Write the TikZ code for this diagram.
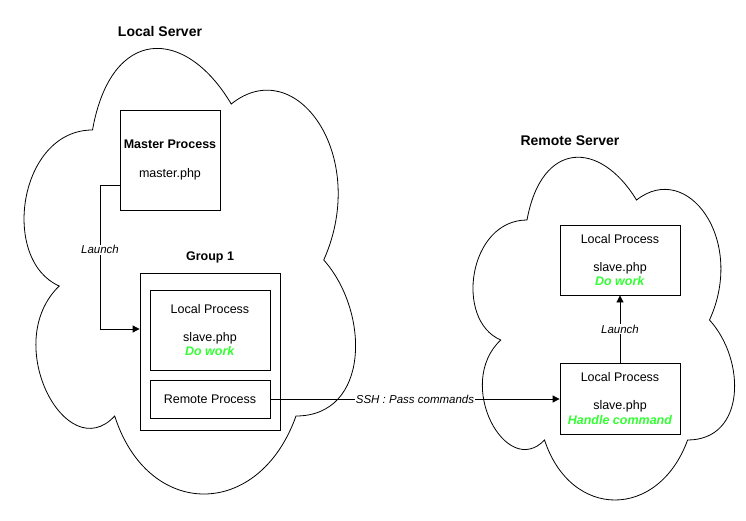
\documentclass[tikz,border=0pt]{standalone}
\usepackage{fontspec}
\setmainfont{Liberation Sans}
\usetikzlibrary{arrows.meta}
\definecolor{workgreen}{HTML}{33FF33}
\newcommand{\cloudpath}[4]{%
  \begin{scope}[shift={(#1,#2)}, xscale=#3, yscale=#4]
    \draw[cloudline] (0.25,0.25) .. controls (0.05,0.25) and (0,0.5) .. (0.16,0.55)
      .. controls (0,0.66) and (0.18,0.9) .. (0.31,0.8)
      .. controls (0.4,1) and (0.7,1) .. (0.8,0.8)
      .. controls (1,0.8) and (1,0.6) .. (0.875,0.5)
      .. controls (1,0.3) and (0.8,0.1) .. (0.625,0.2)
      .. controls (0.5,0.05) and (0.3,0.05) .. (0.25,0.25) -- cycle;
  \end{scope}}
\begin{document}
\begin{tikzpicture}[x=1pt, y=-1pt,
  cloudline/.style={draw=black, line width=0.8pt, fill=white},
  procbox/.style={draw=black, line width=0.8pt, fill=white, rectangle, inner sep=0pt, align=center,
    font=\fontsize{12.5}{14.4}\selectfont},
  titletext/.style={font=\fontsize{14}{16}\selectfont\bfseries, inner sep=1pt},
  grouptext/.style={font=\fontsize{12.5}{14.4}\selectfont\bfseries, inner sep=1pt},
  edgelabel/.style={font=\fontsize{11.5}{13}\selectfont\itshape, fill=white, inner sep=1pt},
  conn/.style={draw=black, line width=0.8pt},
  arr/.style={conn, -{Triangle[length=7pt, width=7pt]}}
]
\useasboundingbox (0,0) rectangle (746,521);
\fill[white] (0,0) rectangle (746,521);

% clouds
\cloudpath{0}{0}{370}{520}
\cloudpath{454}{120}{292}{400}

% titles
\node[titletext] (tlocal) at (160,31) {Local Server};
\node[titletext] (tremote) at (570,141) {Remote Server};
\node[grouptext] (tgroup) at (210,257) {Group 1};

% left side
\node[procbox, minimum width=100pt, minimum height=100pt] (master) at (170,160)
  {\textbf{Master Process}\\[14pt]master.php};
\node[procbox, minimum width=140pt, minimum height=157pt] (group) at (210,351.5) {};
\node[procbox, minimum width=120pt, minimum height=80pt] (lp1) at (210,330)
  {Local Process\\[14pt]slave.php\\\textcolor{workgreen}{\textbf{\textit{Do work}}}};
\node[procbox, minimum width=120pt, minimum height=38pt] (rp) at (210,399) {Remote Process};

% right side
\node[procbox, minimum width=120pt, minimum height=70pt] (lp2) at (620,260)
  {Local Process\\[14pt]slave.php\\\textcolor{workgreen}{\textbf{\textit{Do work}}}};
\node[procbox, minimum width=120pt, minimum height=71pt] (lp3) at (620,398.5)
  {Local Process\\[14pt]slave.php\\\textcolor{workgreen}{\textbf{\textit{Handle command}}}};

% connectors
\coordinate (bend1) at (100,185);
\coordinate (bend2) at (100,329);
\draw[arr] (master.west |- bend1) -- (bend1) -- node[edgelabel, pos=0.45] {Launch} (bend2) -- (group.west |- bend2);
\draw[arr] (rp.east) -- node[edgelabel, pos=0.5] {SSH : Pass commands} (lp3.west |- rp.east);
\draw[arr] (lp3.north) -- node[edgelabel] {Launch} (lp2.south);
\end{tikzpicture}
\end{document}
